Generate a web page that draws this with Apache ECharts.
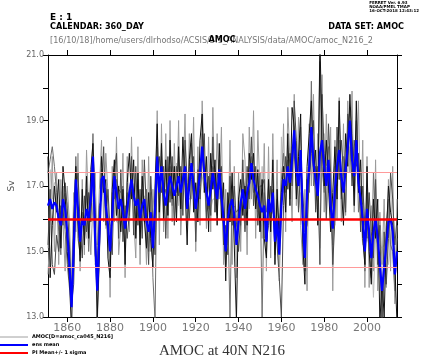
<!DOCTYPE html>
<html><head><meta charset="utf-8">
<script src="https://cdn.jsdelivr.net/npm/echarts@6/dist/echarts.min.js"></script>
<style>html,body{margin:0;padding:0;background:#fff}#c{width:421px;height:358px}</style>
</head><body><div id="c"></div>
<script>
const startYear = 1851;
const xTicks = [1860,1880,1900,1920,1940,1960,1980,2000];
const yTickLabels = [13,15,17,19,21];
const piMean = 15.98;
const piSigma = 1.45;

const ensMean = [
16.4,16.6,16.3,16.5,16.4,16.0,15.8,16.6,16.3,15.6,
14.6,13.3,15.0,17.2,16.3,15.3,16.0,15.8,16.3,16.0,
16.6,17.9,15.4,13.8,15.5,17.2,17.3,16.4,15.8,15.0,
16.1,17.3,16.8,16.3,16.6,16.2,15.7,16.3,16.8,17.2,
16.7,16.4,16.6,16.0,16.4,16.6,15.9,15.6,16.2,15.1,
16.3,17.9,16.8,17.6,16.8,16.4,16.9,17.3,17.0,16.7,
17.0,17.3,16.8,17.2,17.6,16.3,17.0,17.7,17.0,16.3,
16.8,17.4,18.2,17.4,16.8,16.4,16.9,17.4,17.0,16.6,
17.5,16.7,16.0,15.0,16.0,16.4,16.6,16.1,15.2,15.9,
16.5,16.9,16.3,16.8,17.1,17.7,17.2,16.9,16.7,16.4,
16.2,16.4,15.3,16.6,16.2,16.8,15.3,16.0,14.9,16.4,
17.2,17.0,17.6,17.1,17.8,18.7,17.5,17.0,18.1,15.9,
14.8,16.8,17.6,18.8,17.7,17.2,16.7,18.0,18.4,17.6,
17.0,17.8,16.4,15.7,16.9,17.6,18.1,17.3,16.8,17.5,
18.2,19.0,17.8,17.3,18.4,17.1,16.6,16.0,15.0,16.3,
15.6,14.8,15.6,16.0,15.4,14.6,13.8,14.5,15.2,15.9,
16.0,15.6,14.3,15.0];

const memberA = [
17.9,14.2,15.8,17.0,16.2,17.2,15.1,17.6,16.8,15.0,
14.1,12.6,15.8,17.6,16.0,14.7,16.9,15.2,17.3,15.4,
17.5,18.3,16.2,13.0,15.0,17.9,16.8,17.2,14.8,14.2,
16.9,17.8,16.1,17.0,15.6,16.9,14.6,17.1,18.0,16.6,
17.8,15.4,17.4,15.2,17.3,16.0,15.1,16.8,15.4,14.5,
17.0,18.9,16.2,18.3,16.0,17.8,16.1,18.4,16.6,17.6,
15.9,18.2,16.3,18.5,17.0,15.2,17.8,18.6,16.2,17.1,
15.9,18.4,19.2,16.8,17.9,15.6,18.0,16.9,17.8,15.8,
18.3,16.0,17.1,14.1,16.8,15.9,17.4,15.2,12.9,16.6,
17.2,16.1,17.0,15.8,18.0,17.2,18.0,16.3,17.5,15.6,
17.2,15.4,14.8,17.2,15.6,17.8,14.6,16.9,15.3,16.8,
17.6,16.2,18.6,16.4,19.4,18.8,16.6,17.9,19.2,15.2,
14.0,17.6,18.6,19.6,17.4,18.1,15.8,21.5,18.4,17.0,
18.4,17.0,15.6,16.8,18.2,16.6,19.6,17.0,15.8,18.6,
17.6,19.8,18.2,16.4,19.6,16.8,17.8,15.4,14.6,17.6,
15.0,14.0,16.6,15.4,16.6,12.8,14.2,13.0,15.4,17.0,
16.2,15.8,14.6,12.8];

const memberB = [
15.2,16.9,14.6,14.3,15.5,15.0,16.4,15.8,17.1,16.3,
15.2,13.4,14.0,16.8,17.4,15.8,14.8,16.7,15.6,16.8,
15.9,17.6,14.9,14.5,16.4,16.6,18.2,15.8,16.9,15.6,
14.9,17.4,18.0,15.4,17.5,15.3,16.4,15.4,16.2,17.9,
15.5,17.6,15.8,16.9,15.4,17.8,16.2,14.6,17.3,15.8,
14.9,17.4,17.9,16.8,17.6,15.4,17.9,16.5,17.9,15.8,
17.6,16.7,17.6,16.1,18.4,17.1,16.0,17.2,17.9,15.3,
17.5,16.6,17.7,18.6,16.0,17.3,16.1,18.5,16.2,17.4,
16.9,17.6,15.2,15.8,14.9,17.3,15.8,17.0,15.9,15.0,
16.0,17.8,15.6,17.6,16.6,18.5,16.4,17.6,15.8,17.0,
17.0,17.2,15.3,15.8,17.0,16.2,16.0,15.2,14.2,13.0,
16.4,17.9,16.9,18.0,17.0,19.6,18.4,16.2,17.6,16.8,
15.6,15.8,17.2,18.0,19.0,16.2,17.6,14.6,19.8,18.0,
16.0,18.9,17.4,14.6,16.0,18.8,17.2,18.4,17.4,16.2,
19.2,18.6,17.0,18.4,17.6,18.0,15.6,17.0,15.8,15.4,
16.8,15.6,14.8,17.2,14.6,15.8,12.9,15.6,14.0,15.4,
17.4,16.6,15.2,16.0];

const memberC = [
17.4,17.8,18.2,17.6,16.8,15.6,14.9,17.0,15.6,14.6,
13.9,13.7,15.6,17.9,15.4,14.9,16.2,15.5,16.9,15.0,
16.6,18.6,15.9,12.8,14.8,17.5,17.0,16.9,15.5,14.4,
16.8,16.6,17.2,16.9,16.8,17.0,15.9,16.8,16.1,17.4,
16.8,16.0,17.2,15.7,16.9,15.9,16.9,15.0,16.8,14.2,
12.9,18.2,16.0,17.9,16.4,16.9,16.5,17.6,16.4,17.4,
16.8,17.9,16.0,17.4,17.2,16.4,17.6,18.3,16.6,16.0,
17.3,17.0,18.6,17.3,16.2,16.4,17.2,17.6,17.4,16.1,
17.8,16.4,15.8,14.6,16.2,13.0,17.0,16.4,16.2,16.3,
15.8,17.4,16.9,16.3,17.5,17.9,16.8,17.4,16.2,17.4,
13.0,16.8,16.2,17.0,15.9,16.9,14.9,16.6,15.7,17.2,
18.0,16.8,17.8,16.6,18.2,18.0,17.0,17.6,18.8,15.6,
14.4,17.2,16.8,20.2,17.0,17.6,16.9,20.8,17.6,16.8,
17.6,18.2,16.2,15.2,17.6,17.0,18.4,16.6,17.9,17.4,
18.6,19.4,18.6,17.0,19.0,16.2,17.0,16.4,14.4,16.8,
15.4,14.2,17.4,16.0,15.2,14.6,13.0,14.2,15.8,16.6,
15.2,15.0,13.8,15.4];

const memberD = [
15.1,17.5,16.6,17.1,17.1,16.2,16.8,16.0,15.7,16.5,
15.2,13.5,14.6,16.5,16.4,15.8,16.1,15.8,15.4,16.8,
16.4,17.1,14.6,14.9,15.8,16.8,17.2,15.7,16.0,15.8,
15.8,17.4,15.9,15.9,16.5,15.6,15.9,15.9,16.9,16.9,
16.7,16.6,16.0,16.2,16.0,16.7,15.4,16.0,15.3,15.9,
16.4,17.1,17.1,17.4,17.2,15.5,17.1,16.7,17.1,16.0,
17.7,16.4,17.3,16.8,17.8,16.5,16.6,16.7,17.3,16.8,
16.5,17.6,17.3,16.9,17.1,16.3,16.3,16.6,16.6,17.1,
17.0,16.8,15.9,15.5,16.1,17.4,16.2,15.8,15.8,15.7,
17.0,16.3,15.7,17.5,16.3,17.2,17.6,16.3,17.3,15.6,
17.6,16.2,14.9,16.4,16.3,16.3,15.7,15.3,14.4,18.5,
16.8,17.1,17.1,17.4,16.6,18.4,18.0,16.3,16.8,16.0,
15.2,16.6,17.8,17.4,17.4,16.9,16.5,15.1,17.8,18.6,
16.0,17.1,16.4,16.2,15.8,18.0,17.2,17.2,16.1,17.8,
17.4,18.2,17.4,17.4,17.4,17.4,16.0,15.2,15.2,15.4,
15.2,15.4,13.6,15.4,15.2,15.2,15.1,15.2,15.6,14.6,
15.2,15.0,13.6,15.8];

const memberE = [
14.3,15.8,17.9,15.0,17.4,14.6,17.2,15.9,14.4,17.0,
15.9,14.0,16.8,15.6,18.0,14.4,17.2,14.9,18.1,16.2,
14.9,16.5,17.4,15.2,16.9,18.4,15.9,18.0,16.8,13.6,
17.6,15.9,18.5,14.9,15.8,18.0,14.2,17.9,15.6,18.5,
16.0,14.8,18.2,14.6,17.8,16.3,14.6,17.9,15.0,16.9,
15.6,19.3,15.2,18.9,15.6,18.6,15.4,19.0,15.9,18.3,
16.2,19.0,15.5,17.0,19.2,15.8,18.6,16.6,19.1,15.0,
18.2,15.8,19.6,17.6,15.7,18.5,15.6,19.4,16.2,18.6,
16.6,18.8,14.6,16.9,15.2,18.4,14.6,17.6,14.2,17.4,
15.0,18.6,17.8,14.9,18.8,16.6,19.3,15.4,18.7,16.8,
15.4,18.3,14.4,18.2,14.8,18.6,15.2,17.8,14.1,16.2,
18.9,15.6,19.4,17.8,15.9,19.8,16.4,19.1,15.8,14.6,
16.9,13.8,18.9,17.0,19.8,16.3,18.6,17.4,20.4,16.2,
19.2,16.8,18.8,13.8,18.4,16.0,19.7,15.9,18.9,16.1,
19.6,17.4,19.9,16.2,17.8,19.6,15.8,18.4,13.9,17.9,
13.9,16.4,14.4,17.8,13.8,16.2,14.6,16.6,13.9,17.2,
14.4,17.6,13.4,16.6];

function pairs(arr){ return arr.map((v,i)=>[startYear+i, v]); }
const endYear = startYear + ensMean.length - 1;

const chart = echarts.init(document.getElementById('c'), null, {renderer:'canvas'});
const axisLine = {show:true, lineStyle:{color:'#000', width:1}};
const memberSeries = (data, color) => ({
  type:'line', data:pairs(data), showSymbol:false, symbol:'none', clip:true,
  lineStyle:{color:color, width:1}, silent:true, animation:false
});

chart.setOption({
  animation:false,
  grid:{left:48, right:24, top:55, bottom:41},
  xAxis:[
    {type:'value', min:startYear, max:endYear, position:'bottom',
     axisLine:axisLine, splitLine:{show:false},
     axisTick:{show:true, length:5, inside:false, customValues:xTicks, lineStyle:{color:'#000'}},
     axisLabel:{show:true, customValues:xTicks, color:'#777', fontSize:11, fontFamily:'DejaVu Sans', margin:6,
       formatter:v => String(v)}},
    {type:'value', min:startYear, max:endYear, position:'top',
     axisLine:axisLine, splitLine:{show:false},
     axisTick:{show:true, length:5, customValues:xTicks, lineStyle:{color:'#000'}},
     axisLabel:{show:false}}
  ],
  yAxis:[
    {type:'value', min:13, max:21, interval:1, position:'left',
     axisLine:axisLine, splitLine:{show:false},
     axisTick:{show:true, length:5, lineStyle:{color:'#000'}},
     axisLabel:{color:'#666', fontSize:8, fontFamily:'DejaVu Sans', margin:4,
       formatter:v => yTickLabels.indexOf(v) >= 0 ? v.toFixed(1) : ''}},
    {type:'value', min:13, max:21, interval:1, position:'right',
     axisLine:axisLine, splitLine:{show:false},
     axisTick:{show:true, length:5, lineStyle:{color:'#000'}},
     axisLabel:{show:false}}
  ],
  series:[
    memberSeries(memberD, '#bcbcbc'),
    memberSeries(memberE, '#9a9a9a'),
    memberSeries(memberC, '#6e6e6e'),
    memberSeries(memberB, '#4a4a4a'),
    memberSeries(memberA, '#111111'),
    {type:'line', data:pairs(ensMean), showSymbol:false, symbol:'none', clip:true,
     lineStyle:{color:'#0000ff', width:2.2}, z:3,
     markLine:{silent:true, symbol:'none', label:{show:false}, z:4,
       data:[
         {yAxis:piMean+piSigma, lineStyle:{color:'#ff9a9a', width:1, type:'solid'}},
         {yAxis:piMean-piSigma, lineStyle:{color:'#ff9a9a', width:1, type:'solid'}},
         {yAxis:piMean, lineStyle:{color:'#ff0000', width:2.5, type:'solid'}}
       ]}}
  ],
  graphic:[
    {type:'text', left:50, top:13, style:{text:'E : 1', font:'bold 9px "DejaVu Sans"', fill:'#000'}},
    {type:'text', left:50, top:22, style:{text:'CALENDAR: 360_DAY', font:'bold 9px "DejaVu Sans Condensed", "DejaVu Sans"', fill:'#000'}},
    {type:'text', right:17, top:22, style:{text:'DATA SET: AMOC', font:'bold 9px "DejaVu Sans Condensed", "DejaVu Sans"', fill:'#000'}},
    {type:'text', left:50, top:36, style:{text:'[16/10/18]/home/users/dlrhodso/ACSIS/3.1_ANALYSIS/data/AMOC/amoc_N216_2', font:'9px "DejaVu Sans Condensed", "DejaVu Sans"', fill:'#777'}},
    {type:'text', x:222, y:35, style:{text:'AMOC', font:'bold 9px "DejaVu Sans Condensed", "DejaVu Sans"', fill:'#000', align:'center'}},
    {type:'text', right:2, top:1, style:{text:'FERRET Ver. 6.93\nNOAA/PMEL TMAP\n16-OCT-2018 12:43:12', font:'bold 4px "DejaVu Sans"', fill:'#000', align:'right', lineHeight:4}},
    {type:'text', x:12, y:186, rotation:Math.PI/2, style:{text:'Sv', font:'9px "DejaVu Sans"', fill:'#555', align:'center', verticalAlign:'middle'}},
    {type:'line', shape:{x1:0, y1:337, x2:28, y2:337}, style:{stroke:'#a0a0a0', lineWidth:1}},
    {type:'line', shape:{x1:0, y1:345, x2:28, y2:345}, style:{stroke:'#0000ff', lineWidth:2}},
    {type:'line', shape:{x1:0, y1:353, x2:28, y2:353}, style:{stroke:'#ff0000', lineWidth:2}},
    {type:'text', x:32, y:337, style:{text:'AMOC[D=amoc_ca045_N216]', font:'bold 5px "DejaVu Sans"', fill:'#000', verticalAlign:'middle'}},
    {type:'text', x:32, y:345, style:{text:'ens mean', font:'bold 5px "DejaVu Sans"', fill:'#000', verticalAlign:'middle'}},
    {type:'text', x:32, y:353, style:{text:'PI Mean+/- 1 sigma', font:'bold 5px "DejaVu Sans"', fill:'#000', verticalAlign:'middle'}},
    {type:'text', x:222, y:351, style:{text:'AMOC at 40N N216', font:'15px "Liberation Serif"', fill:'#333', align:'center', verticalAlign:'middle'}}
  ]
});
</script></body></html>
